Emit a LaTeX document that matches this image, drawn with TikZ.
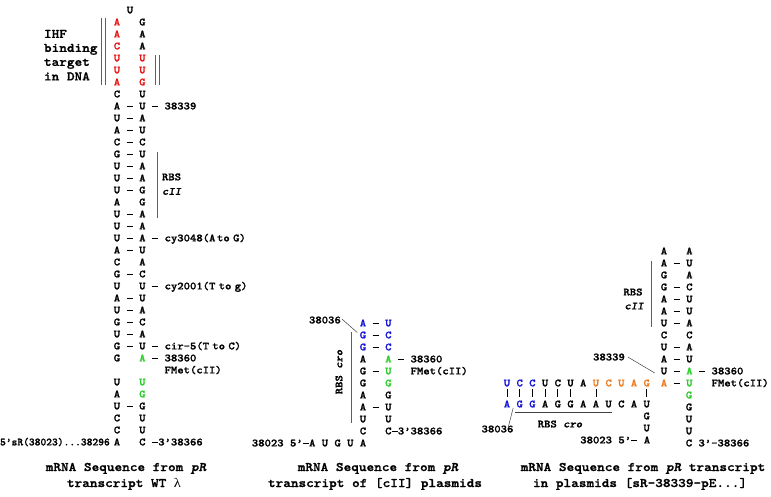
\documentclass[tikz,border=0pt]{standalone}
\usepackage{fontspec}
\usepackage{graphicx}
\newfontfamily\serifgr{Liberation Serif}
\newfontfamily\nmono{lmmonolt10-bold.otf}[FakeBold=1.2]
\newfontfamily\nmonoi{lmmonolt10-boldoblique.otf}[FakeBold=1.2]
\definecolor{nred}{RGB}{232,20,20}
\definecolor{ngreen}{RGB}{40,205,40}
\definecolor{nblue}{RGB}{20,20,215}
\definecolor{norange}{RGB}{238,122,32}
\definecolor{lgray}{RGB}{95,95,95}
\newcommand\nf{\fontsize{11}{12}\nmono}
\newcommand\cf{\fontsize{13}{14}\nmono}
\newcommand\slo{\nmonoi}
\newcommand\T[1]{\scalebox{1.1}[1]{\nf #1}}
\newcommand\C[1]{\scalebox{1.12}[1]{\cf #1}}
\newcommand\bk{\hphantom{A}}
\newcommand\D{\makebox[0.525em]{\rule[0.27em]{0.52em}{0.075em}}}
\newcommand\cR[1]{\textcolor{nred}{#1}}
\newcommand\cG[1]{\textcolor{ngreen}{#1}}
\newcommand\cB[1]{\textcolor{nblue}{#1}}
\newcommand\cO[1]{\textcolor{norange}{#1}}
\newcommand\rw[4]{\node[nt] (#1) at (#2,#3+3.4) {\T{#4}};}
\newcommand\lt[4]{\node[ltr] (#1) at (#2,#3+3.4) {\T{#4}};}
\begin{document}
\begin{tikzpicture}[x=1pt,y=-1pt,
  nt/.style={inner sep=0pt,outer sep=0pt,anchor=base west},
  ltr/.style={inner sep=0pt,outer sep=0pt,anchor=base},
  bar/.style={draw=lgray,line width=0.9pt},
  lead/.style={draw=black!75,line width=0.5pt},
  tick/.style={draw=black,line width=0.7pt}]
\useasboundingbox[fill=white] (0,0) rectangle (771,497);

%================ LEFT: WT lambda =================
\lt{ltop}{130}{10}{U}
\rw{l0}{113.8}{22}{\cR{A} \bk{} G}
\rw{l1}{113.8}{34}{\cR{A} \bk{} A}
\rw{l2}{113.8}{46}{\cR{C} \bk{} A}
\rw{l3}{113.8}{58}{\cR{U} \bk{} \cR{U}}
\rw{l4}{113.8}{70}{\cR{U} \bk{} \cR{U}}
\rw{l5}{113.8}{82}{\cR{A} \bk{} \cR{G}}
\rw{l6}{113.8}{94}{C \bk{} U}
\rw{l7}{113.8}{106}{A \D{} U \D{} 38339}
\rw{l8}{113.8}{118}{U \D{} A}
\rw{l9}{113.8}{130}{A \D{} U}
\rw{l10}{113.8}{142}{C \D{} C}
\rw{l11}{113.8}{154}{G \D{} U}
\rw{l12}{113.8}{166}{U \D{} A}
\rw{l13}{113.8}{178}{U \D{} A}
\rw{l14}{113.8}{190}{U \D{} G}
\rw{l15}{113.8}{202}{A \bk{} G}
\rw{l16}{113.8}{214}{U \D{} A}
\rw{l17}{113.8}{226}{U \D{} A}
\rw{l18}{113.8}{238}{U \D{} A \D{} cy3048(A\hspace{1.5pt}to\hspace{3pt}G)}
\rw{l19}{113.8}{250}{A \D{} U}
\rw{l20}{113.8}{262}{C \bk{} A}
\rw{l21}{113.8}{274}{G \D{} C}
\rw{l22}{113.8}{286}{U \bk{} U \D{} cy2001(T\hspace{3pt}to\hspace{3pt}g)}
\rw{l23}{113.8}{298}{A \D{} U}
\rw{l24}{113.8}{310}{U \D{} A}
\rw{l25}{113.8}{322}{G \D{} C}
\rw{l26}{113.8}{334}{U \D{} A}
\rw{l27}{113.8}{346}{G \D{} U \D{} cir-5(T\hspace{3pt}to\hspace{3pt}C)}
\rw{l28}{113.8}{358}{G \bk{} \cG{A} \D{} 38360}
\rw{lfm}{164.6}{370}{FMet(cII)}
\rw{l30}{113.8}{382}{U \bk{} \cG{U}}
\rw{l31}{113.8}{394}{A \bk{} \cG{G}}
\rw{l32}{113.8}{406}{U \D{} G}
\rw{l33}{113.8}{418}{C \bk{} U}
\rw{l34}{113.8}{430}{C \bk{} U}
\rw{l35}{113.8}{442}{A \bk{} C \D{}3’38366}
\node[inner sep=0pt,anchor=base east] (l5p) at (110,445.4) {\nf 5’sR(38023)...38296};

% IHF
\node[nt] (ihf1) at (44,37.9) {\C{IHF}};
\node[nt] (ihf2) at (44,51.9) {\C{binding}};
\node[nt] (ihf3) at (44,65.9) {\C{target}};
\node[nt] (ihf4) at (44,80.4) {\C{in DNA}};
\draw[bar] (101.7,18) -- (101.7,85);
\draw[bar] (105.9,18) -- (105.9,85);
\draw[bar] (155.6,55) -- (155.6,85);
\draw[bar] (159.6,55) -- (159.6,85);
% RBS cII left
\draw[bar] (157,152) -- (157,218);
\node[nt] (lrbs) at (162,180.3) {\T{RBS}};
\node[nt] (lcii) at (162,194.8) {\T{\slo cII}};

%================ MIDDLE: [cII] plasmids =================
\rw{m0}{359.8}{323}{\cB{A} \D{} \cB{U}}
\rw{m1}{359.8}{335}{\cB{G} \D{} \cB{C}}
\rw{m2}{359.8}{347}{\cB{G} \D{} \cB{C}}
\rw{m3}{359.8}{359}{A \bk{} \cG{A} \D{} 38360}
\rw{m4}{359.8}{371}{G \D{} \cG{U} \bk{} FMet(cII)}
\rw{m5}{359.8}{383}{G \bk{} \cG{G}}
\rw{m6}{359.8}{395}{A \bk{} G}
\rw{m7}{359.8}{407}{A \D{} U}
\rw{m8}{359.8}{419}{U \bk{} U}
\rw{m9}{359.8}{431}{C \bk{} C\D{}3’38366}
\rw{m10}{251.9}{443}{38023 5’\D{}A U G U A}
\node[inner sep=0pt,anchor=base east] (m36) at (341,323.4) {\T{38036}};
\draw[lead] ([xshift=1pt,yshift=1pt]m36.east) -- ([xshift=-2.5pt,yshift=-1pt]m1.north west);
\draw[bar] (351,332) -- (351,423);
\node[inner sep=0pt,rotate=90] (mrbs) at (339,372) {\T{RBS \slo cro}};

%================ RIGHT: sR-38339-pE plasmids =================
\rw{r0}{660.8}{251}{A \bk{} A}
\rw{r1}{660.8}{263}{A \D{} U}
\rw{r2}{660.8}{275}{G \bk{} A}
\rw{r3}{660.8}{287}{G \D{} C}
\rw{r4}{660.8}{299}{A \D{} U}
\rw{r5}{660.8}{311}{A \D{} U}
\rw{r6}{660.8}{323}{U \D{} A}
\rw{r7}{660.8}{335}{C \bk{} C}
\rw{r8}{660.8}{347}{U \D{} A}
\rw{r9}{660.8}{359}{A \D{} U}
\rw{r10}{660.8}{371}{U \D{} \cG{A} \D{} 38360}
\rw{r11}{660.8}{383}{\cO{A} \D{} \cG{U} \bk{} FMet(cII)}
\lt{r12}{689}{395}{\cG{G}}
\lt{r13}{689}{407}{G}
\lt{r14}{689}{419}{U}
\lt{r15}{689}{431}{U}
\rw{r16}{685.8}{443}{C 3’-38366}
% horizontal arms
\foreach \k/\l/\c in {0/U/nblue,1/C/nblue,2/C/nblue,3/U/black,4/C/black,5/U/black,6/A/black,7/U/norange,8/C/norange,9/U/norange,10/A/norange,11/G/norange}
  \lt{t\k}{507+12.7*\k}{383}{\textcolor{\c}{\l}};
\foreach \k/\l/\c in {0/A/nblue,1/G/nblue,2/G/nblue,3/A/black,4/G/black,5/G/black,6/A/black,7/A/black,8/U/black,9/C/black,10/A/black,11/U/black}
  \lt{b\k}{507+12.7*\k}{404}{\textcolor{\c}{\l}};
\foreach \k in {0,1,2,3,4,5,7,11}
  \draw[tick,shorten <=2.6pt,shorten >=3.6pt] (t\k.south) -- (b\k.north);
\lt{s1}{646.7}{416}{G}
\lt{s2}{646.7}{428}{U}
\rw{s3}{580.3}{440}{38023 5’\D{} A}
\node[ltr] (r38339) at (609,360.4) {\T{38339}};
\draw[lead] ([xshift=3pt]r38339.east) -- ([xshift=-6pt,yshift=-2pt]r10.west);
\node[ltr] (r38036) at (497.5,432.4) {\T{38036}};
\draw[lead] ([xshift=-5pt,yshift=-1pt]r38036.north east) -- ([xshift=3pt,yshift=-0.5pt]b0.south east);
\draw[lead,line width=0.8pt] (515,412) -- (612,412);
\node[ltr] (rrbs) at (560,427.4) {\T{RBS \slo cro}};
\draw[bar] (651,261) -- (651,327);
\node[ltr] (rrbs2) at (633,295.4) {\T{RBS}};
\node[ltr] (rcii) at (634,309.4) {\T{\slo cII}};

%================ CAPTIONS =================
\node[ltr] (c1a) at (126,471) {\C{mRNA Sequence from {\slo pR}}};
\node[ltr] (c1b) at (124,487) {\C{transcript WT {\serifgr λ}}};
\node[ltr] (c2a) at (378,471) {\C{mRNA Sequence from {\slo pR}}};
\node[ltr] (c2b) at (375,487) {\C{transcript of [cII] plasmids}};
\node[ltr] (c3a) at (643,471) {\C{mRNA Sequence from {\slo pR} transcript}};
\node[ltr] (c3b) at (640,487) {\C{in plasmids [sR-38339-pE...]}};
\end{tikzpicture}
\end{document}
